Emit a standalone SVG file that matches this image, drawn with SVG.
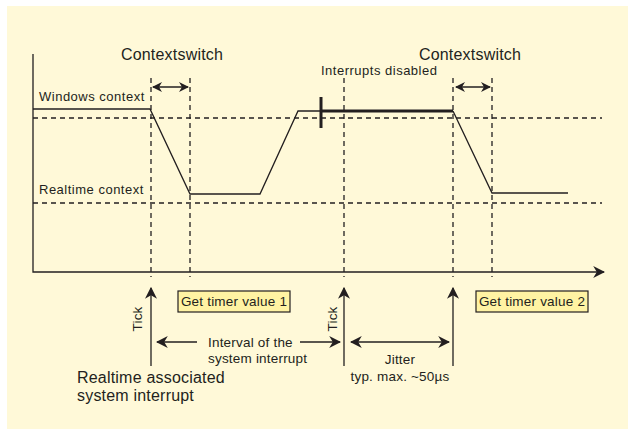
<svg xmlns="http://www.w3.org/2000/svg" width="628" height="429" viewBox="0 0 628 429">
<defs>
<marker id="ah" viewBox="0 0 10 10" refX="9" refY="5" markerWidth="10" markerHeight="10" markerUnits="userSpaceOnUse" orient="auto-start-reverse">
<path d="M0,0 L10,5 L0,10 L3,5 Z" fill="#231f20"/>
</marker>
<marker id="ahb" viewBox="0 0 10 10" refX="9" refY="5" markerWidth="12" markerHeight="12" markerUnits="userSpaceOnUse" orient="auto-start-reverse">
<path d="M0,0 L10,5 L0,10 L3,5 Z" fill="#231f20"/>
</marker>
</defs>
<style>
text{font-family:"Liberation Sans",Arial,sans-serif;fill:#231f20}
.ln{stroke:#231f20;stroke-width:1.3;fill:none}
.dash{stroke:#231f20;stroke-width:1.3;stroke-dasharray:5,4;fill:none}
.box{fill:#fff3a3;stroke:#231f20;stroke-width:1.2}
.s12{font-size:13px;letter-spacing:0.5px}
.s13{font-size:13.5px;letter-spacing:0.2px}
.s15{font-size:16px;letter-spacing:0.2px}
</style>
<rect x="7" y="6" width="621" height="423" fill="#fff9d8"/>
<g id="grid">
<path class="dash" d="M33,118 H602 M33,203 H602"/>
<path class="dash" d="M151,78 V277 M190,78 V277 M344,78 V277 M453,78 V277 M492,78 V277"/>
</g>
<g id="axes">
<path class="ln" d="M33,54 V272 H604" marker-end="url(#ahb)"/>
</g>
<g id="signal">
<path class="ln" d="M33,109 H150 L190,194 H260 L298,111 H321"/>
<path d="M321,111 H453" stroke="#231f20" stroke-width="3" fill="none"/>
<path d="M321,97 V128" stroke="#231f20" stroke-width="3" fill="none"/>
<path class="ln" d="M453,111 L492,193 H568"/>
</g>
<g id="labels">
<text class="s15" x="172" y="60" text-anchor="middle">Contextswitch</text>
<text class="s15" x="470" y="60" text-anchor="middle">Contextswitch</text>
<text class="s12" x="39" y="101">Windows context</text>
<text class="s12" x="39" y="194">Realtime context</text>
<text class="s12" x="321" y="75">Interrupts disabled</text>
</g>
<g id="connectors">
<path class="ln" d="M153,87 H188" marker-start="url(#ah)" marker-end="url(#ah)"/>
<path class="ln" d="M456,87 H490" marker-start="url(#ah)" marker-end="url(#ah)"/>
<path class="ln" d="M151,366 V288" marker-end="url(#ahb)"/>
<path class="ln" d="M344,366 V288" marker-end="url(#ahb)"/>
<path class="ln" d="M453,366 V288" marker-end="url(#ahb)"/>
<path class="ln" d="M197,342 H157" marker-end="url(#ahb)"/>
<path class="ln" d="M300,342 H340" marker-end="url(#ahb)"/>
<path class="ln" d="M351,342 H449" marker-start="url(#ahb)" marker-end="url(#ahb)"/>
</g>
<g id="tick1"><text class="s13" transform="translate(142,319) rotate(-90)" text-anchor="middle">Tick</text></g>
<g id="tick2"><text class="s13" transform="translate(337,319) rotate(-90)" text-anchor="middle">Tick</text></g>
<g id="timer1">
<rect class="box" x="178" y="291" width="112" height="21"/>
<text class="s13" x="234" y="306" text-anchor="middle">Get timer value 1</text>
</g>
<g id="timer2">
<rect class="box" x="476" y="291" width="112" height="21"/>
<text class="s13" x="532" y="306" text-anchor="middle">Get timer value 2</text>
</g>
<g id="interval">
<text class="s13" x="208" y="347">Interval of the</text>
<text class="s13" x="208" y="363">system interrupt</text>
</g>
<g id="jitter">
<text class="s13" x="400" y="364" text-anchor="middle">Jitter</text>
<text class="s13" x="400" y="381" text-anchor="middle">typ. max. ~50µs</text>
</g>
<g id="rtint">
<text class="s15" x="77" y="383">Realtime associated</text>
<text class="s15" x="77" y="401">system interrupt</text>
</g>
</svg>
